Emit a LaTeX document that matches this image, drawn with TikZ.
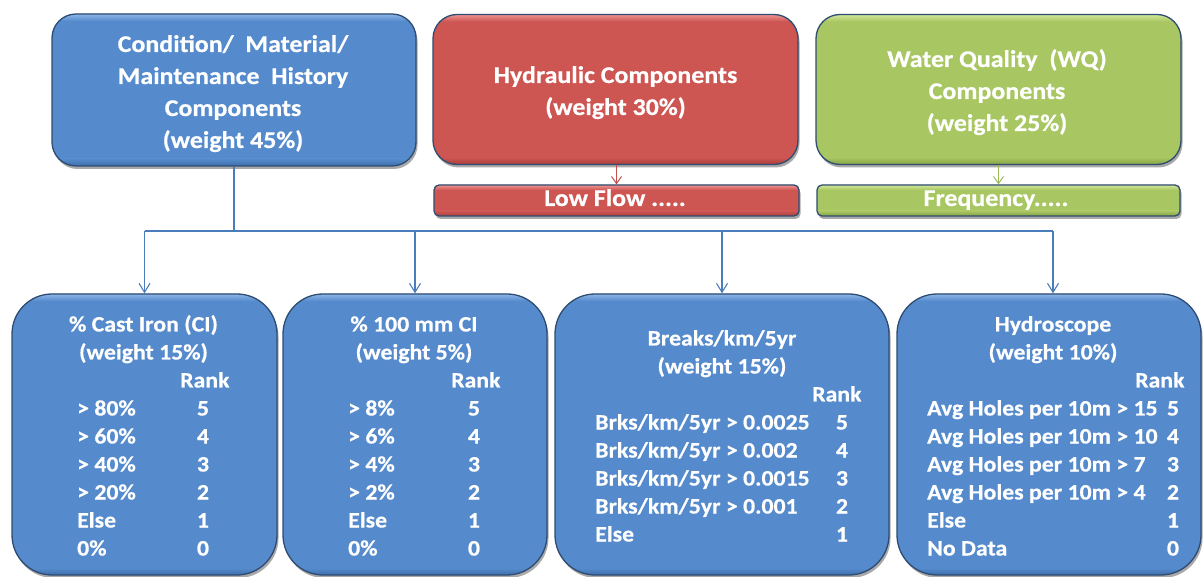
\documentclass[tikz,border=0pt]{standalone}
\usepackage{fontspec}
\setmainfont{Carlito}[FakeStretch=1.08, BoldFeatures={FakeBold=0.5}]
\usetikzlibrary{arrows.meta,shadows,calc}

\definecolor{bfill}{HTML}{558BCC}
\definecolor{blight}{HTML}{8DB6E8}
\definecolor{bdark}{HTML}{3E6EAC}
\definecolor{rfill}{HTML}{CD5552}
\definecolor{rlight}{HTML}{F09490}
\definecolor{rdark}{HTML}{A9403D}
\definecolor{gfill}{HTML}{A8C662}
\definecolor{glight}{HTML}{D2E79A}
\definecolor{gdark}{HTML}{86A244}
\definecolor{edge}{HTML}{2E4C72}
\definecolor{linkblue}{HTML}{4A7EBB}
\definecolor{linkred}{HTML}{C0504D}
\definecolor{linkgreen}{HTML}{9BBB59}

% light rim along the top, dark rim along the bottom, clipped to the shape
\newcommand\bevelrims[4]{%
  \coordinate (pNW) at (path picture bounding box.north west);
  \coordinate (pSE) at (path picture bounding box.south east);
  \shade[sharp corners, top color=#2, bottom color=#1]
    (pNW) rectangle ($(pSE |- pNW)+(0,#4)$);
  \shade[sharp corners, top color=#1, bottom color=#3]
    ($(pNW |- pSE)+(0,-#4)$) rectangle (pSE);
}

\tikzset{
  box/.style={draw=edge, line width=1.3pt, inner sep=0pt,
    drop shadow={shadow xshift=1.5pt, shadow yshift=-3pt, opacity=0.45, fill=black!75}},
  bluebox/.style={box, fill=bfill, path picture={\bevelrims{bfill}{blight}{bdark}{7}}},
  redbox/.style={box, fill=rfill, path picture={\bevelrims{rfill}{rlight}{rdark}{7}}},
  greenbox/.style={box, fill=gfill, path picture={\bevelrims{gfill}{glight}{gdark}{7}}},
  redbar/.style={box, fill=rfill, path picture={\bevelrims{rfill}{rlight}{rdark}{5}}},
  greenbar/.style={box, fill=gfill, path picture={\bevelrims{gfill}{glight}{gdark}{5}}},
  headtxt/.style={text=white, inner sep=0pt, anchor=base,
    font=\bfseries\fontsize{24}{32}\selectfont},
  bartxt/.style={text=white, inner sep=0pt, anchor=base,
    font=\bfseries\fontsize{24}{28}\selectfont},
  celltxt/.style={text=white, inner sep=0pt,
    font=\bfseries\fontsize{22}{28}\selectfont},
  link/.style={draw=linkblue, line width=1.1pt},
  linkarrow/.style={link, -{Straight Barb[length=9pt,width=11pt]}},
}

\begin{document}
\begin{tikzpicture}[x=1pt,y=-1pt]
\useasboundingbox (0,0) rectangle (1203,577);

% ---- top level components
\node[bluebox, rounded corners=24pt, minimum width=364pt, minimum height=152pt] (cond) at (234,90) {};
\node[redbox, rounded corners=24pt, minimum width=365pt, minimum height=150pt] (hyd) at (615.5,89.5) {};
\node[greenbox, rounded corners=24pt, minimum width=365pt, minimum height=150pt] (wq) at (998.5,89.5) {};

\node[headtxt] (cond1) at (233,52) {Condition/\ \ Material/};
\node[headtxt] (cond2) at (233,84) {Maintenance\ \ History};
\node[headtxt] (cond3) at (233,116) {Components};
\node[headtxt] (cond4) at (233,148) {(weight 45\%)};

\node[headtxt] (hyd1) at (615.5,83) {Hydraulic Components};
\node[headtxt] (hyd2) at (615.5,115) {(weight 30\%)};

\node[headtxt] (wq1) at (997,67) {Water Quality\ \ (WQ)};
\node[headtxt] (wq2) at (997,99) {Components};
\node[headtxt] (wq3) at (997,131) {(weight 25\%)};

% ---- sub bars
\node[redbar, rounded corners=5pt, minimum width=365pt, minimum height=31pt] (flow) at (616.5,200.5) {};
\node[greenbar, rounded corners=5pt, minimum width=363pt, minimum height=31pt] (freq) at (998.5,200.5) {};
\node[bartxt] (flowt) at (615,206) {Low Flow .....};
\node[bartxt] (freqt) at (996,206) {Frequency.....};

\draw[draw=linkred, line width=1pt, -{Straight Barb[length=7pt,width=10pt]}] (hyd.south -| flow.north) -- (flow.north);
\draw[draw=linkgreen, line width=1pt, -{Straight Barb[length=7pt,width=10pt]}] (wq.south -| freq.north) -- (freq.north);

% ---- criteria boxes
\node[bluebox, rounded corners=40pt, minimum width=265pt, minimum height=281pt] (ci) at (144.5,434.5) {};
\node[bluebox, rounded corners=40pt, minimum width=264pt, minimum height=281pt] (mm) at (415,434.5) {};
\node[bluebox, rounded corners=40pt, minimum width=334pt, minimum height=281pt] (brk) at (722,434.5) {};
\node[bluebox, rounded corners=40pt, minimum width=304pt, minimum height=281pt] (hs) at (1049,434.5) {};

% ---- connectors from the condition group
\coordinate (bus) at (234,231);
\coordinate (busend) at (1053,231);
\draw[link] (cond.south) -- (bus);
\draw[link] (bus -| ci.north) -- (busend);
\draw[linkarrow] (bus -| ci.north) -- (ci.north);
\draw[linkarrow] (bus -| mm.north) -- (mm.north);
\draw[linkarrow] (bus -| brk.north) -- (brk.north);
\draw[linkarrow] (busend) -- (busend |- hs.north);

% ---- % Cast Iron
\node[celltxt, anchor=base] (ciT1) at (143.5,331.5) {\% Cast Iron (CI)};
\node[celltxt, anchor=base] (ciT2) at (143.5,359.5) {(weight 15\%)};
\node[celltxt, anchor=base west] (ciR) at (180,387.5) {Rank};
\foreach \t/\r [count=\i] in {{> 80\%}/5,{> 60\%}/4,{> 40\%}/3,{> 20\%}/2,{Else}/1,{0\%}/0}{
  \node[celltxt, anchor=base west] (ciL\i) at (77,387.5+28*\i) {\t};
  \node[celltxt, anchor=base] (ciN\i) at (203,387.5+28*\i) {\r};
}

% ---- % 100 mm CI
\node[celltxt, anchor=base] (mmT1) at (414,331.5) {\% 100 mm CI};
\node[celltxt, anchor=base] (mmT2) at (414,359.5) {(weight 5\%)};
\node[celltxt, anchor=base west] (mmR) at (451,387.5) {Rank};
\foreach \t/\r [count=\i] in {{> 8\%}/5,{> 6\%}/4,{> 4\%}/3,{> 2\%}/2,{Else}/1,{0\%}/0}{
  \node[celltxt, anchor=base west] (mmL\i) at (348,387.5+28*\i) {\t};
  \node[celltxt, anchor=base] (mmN\i) at (474,387.5+28*\i) {\r};
}

% ---- Breaks/km/5yr
\node[celltxt, anchor=base] (brkT1) at (722,345.5) {Breaks/km/5yr};
\node[celltxt, anchor=base] (brkT2) at (722,373.5) {(weight 15\%)};
\node[celltxt, anchor=base west] (brkR) at (812,401.5) {Rank};
\foreach \t/\r [count=\i] in {{Brks/km/5yr > 0.0025}/5,{Brks/km/5yr > 0.002}/4,{Brks/km/5yr > 0.0015}/3,{Brks/km/5yr > 0.001}/2,{Else}/1}{
  \node[celltxt, anchor=base west] (brkL\i) at (595,401.5+28*\i) {\t};
  \node[celltxt, anchor=base] (brkN\i) at (842,401.5+28*\i) {\r};
}

% ---- Hydroscope
\node[celltxt, anchor=base] (hsT1) at (1053,331.5) {Hydroscope};
\node[celltxt, anchor=base] (hsT2) at (1053,359.5) {(weight 10\%)};
\node[celltxt, anchor=base west] (hsR) at (1135,387.5) {Rank};
\foreach \t/\r [count=\i] in {{Avg Holes per 10m > 15}/5,{Avg Holes per 10m > 10}/4,{Avg Holes per 10m > 7}/3,{Avg Holes per 10m > 4}/2,{Else}/1,{No Data}/0}{
  \node[celltxt, anchor=base west] (hsL\i) at (927,387.5+28*\i) {\t};
  \node[celltxt, anchor=base] (hsN\i) at (1173,387.5+28*\i) {\r};
}
\end{tikzpicture}
\end{document}
